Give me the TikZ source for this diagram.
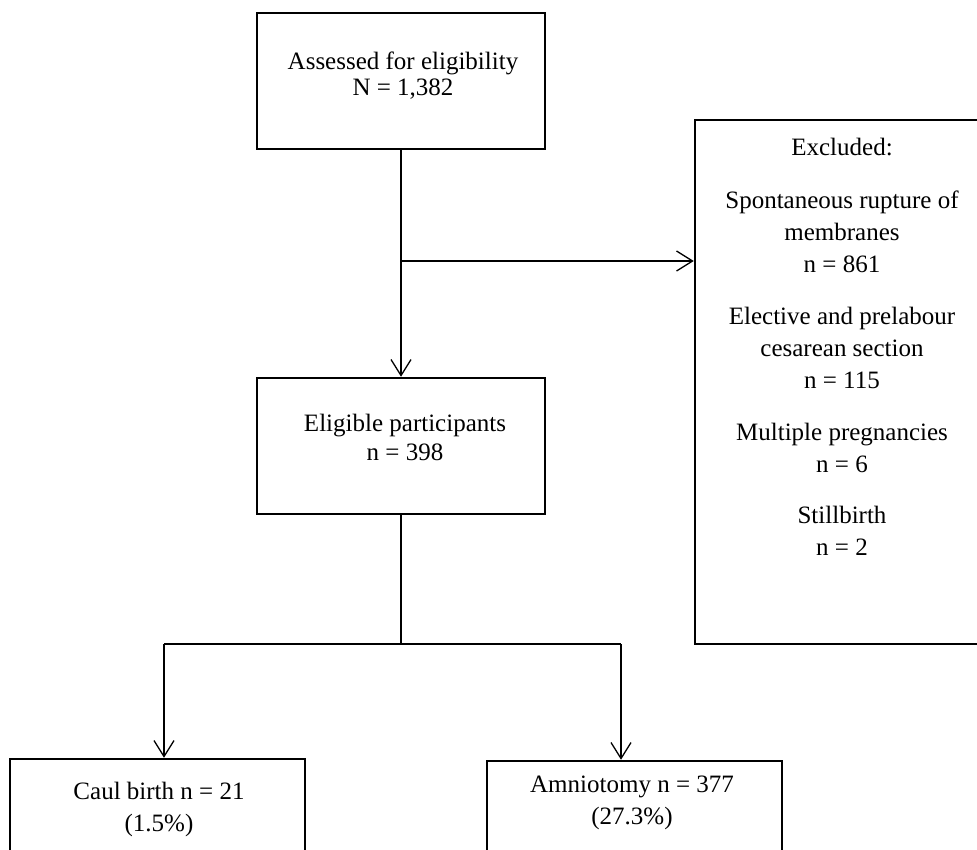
\documentclass[tikz,border=0pt]{standalone}
\usepackage{fontspec}
\setmainfont{Liberation Serif}
\usetikzlibrary{arrows.meta}
\begin{document}
\begin{tikzpicture}[x=1pt,y=-1pt,
  box/.style={draw, line width=2.5pt, inner sep=0pt},
  conn/.style={line width=1.3pt},
  arr/.style={conn, -{Straight Barb[length=16pt,width=20pt]}},
  txt/.style={align=center, font=\fontsize{25}{32}\selectfont, inner sep=0pt},
  txttop/.style={txt, font=\fontsize{25}{26}\selectfont},
  txtmid/.style={txt, font=\fontsize{25}{29}\selectfont}]
\useasboundingbox (0,0) rectangle (977,849);
\clip (0,0) rectangle (977,849);
% boxes
\node[box, minimum width=288pt, minimum height=136pt] (top) at (401,81) {};
\node[box, minimum width=288pt, minimum height=136pt] (elig) at (401,446) {};
\node[box, minimum width=295pt, minimum height=524pt] (excl) at (842.5,382) {};
\node[box, minimum width=295pt, minimum height=121pt] (caul) at (157.5,819.5) {};
\node[box, minimum width=295pt, minimum height=119pt] (amnio) at (634.5,820.5) {};
% texts
\node[txttop] (toptxt) at (403,76) {Assessed for eligibility\\N = 1,382};
\node[txtmid] (eligtxt) at (405,437) {Eligible participants\\n = 398};
\node[txt] (ex0) at (842,147) {Excluded:};
\node[txt] (ex1) at (842,232) {Spontaneous rupture of\\membranes\\n = 861};
\node[txt] (ex2) at (842,348) {Elective and prelabour\\cesarean section\\n = 115};
\node[txt] (ex3) at (842,448) {Multiple pregnancies\\n = 6};
\node[txt] (ex4) at (842,531) {Stillbirth\\n = 2};
\node[txt] (caultxt) at (159,809) {Caul birth n = 21\\(1.5\%)};
\node[txt] (amniotxt) at (632,803) {Amniotomy n = 377\\(27.3\%)};
% connectors
\draw[arr] (top.south) -- (elig.north);
\coordinate (bx) at (401,261);
\draw[arr] (bx) -- (excl.west |- bx);
\coordinate (bm) at (401,644);
\coordinate (bl) at (164,644);
\coordinate (br) at (621,644);
\draw[conn] (elig.south) -- (bm);
\draw[conn] (bl) -- (br);
\draw[arr] (bl) -- (bl |- caul.north);
\draw[arr] (br) -- (br |- amnio.north);
\end{tikzpicture}
\end{document}
